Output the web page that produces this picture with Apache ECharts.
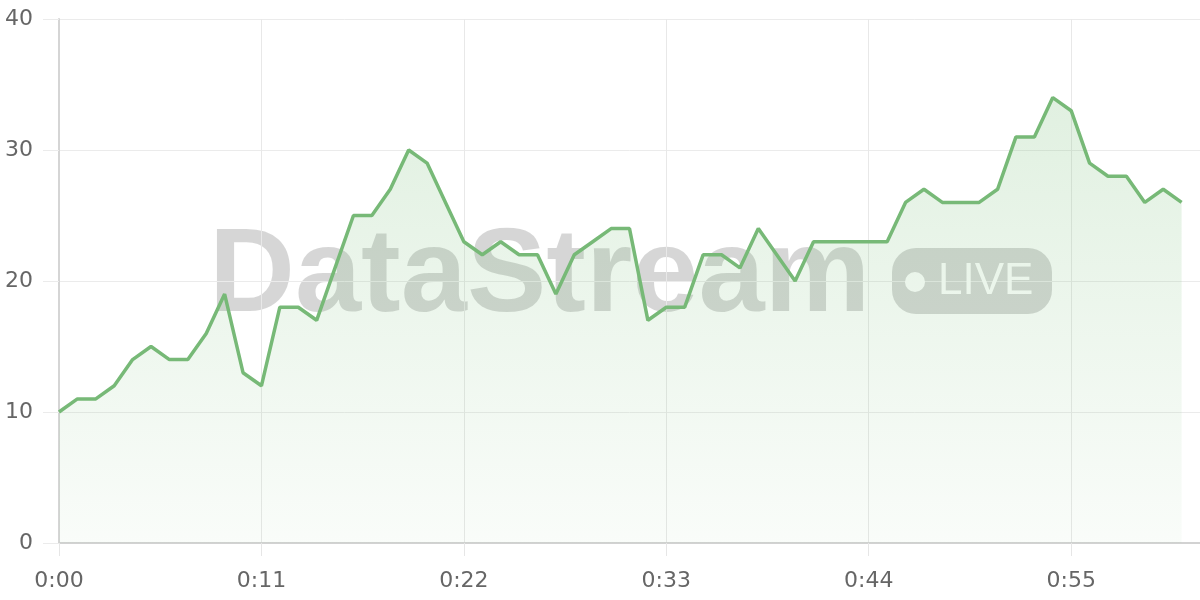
<!DOCTYPE html>
<html>
<head>
<meta charset="utf-8">
<style>
  html, body { margin: 0; padding: 0; background: #fff; }
  #chart { width: 1200px; height: 600px; }
</style>
<script src="https://cdn.jsdelivr.net/npm/echarts@6/dist/echarts.min.js"></script>
</head>
<body>
<div id="chart"></div>
<script>
const categories = [
  '0:00','0:01','0:02','0:03','0:04','0:05','0:06','0:07','0:08','0:09',
  '0:10','0:11','0:12','0:13','0:14','0:15','0:16','0:17','0:18','0:19',
  '0:20','0:21','0:22','0:23','0:24','0:25','0:26','0:27','0:28','0:29',
  '0:30','0:31','0:32','0:33','0:34','0:35','0:36','0:37','0:38','0:39',
  '0:40','0:41','0:42','0:43','0:44','0:45','0:46','0:47','0:48','0:49',
  '0:50','0:51','0:52','0:53','0:54','0:55','0:56','0:57','0:58','0:59',
  '1:00','1:01','1:02'
];
const values = [
  10,11,11,12,14,15,14,14,16,19,
  13,12,18,18,17,21,25,25,27,30,
  29,26,23,22,23,22,22,19,22,23,
  24,24,17,18,18,22,22,21,24,22,
  20,23,23,23,23,23,26,27,26,26,
  26,27,31,31,34,33,29,28,28,26,
  27,26
];
const yTicks = [0, 10, 20, 30, 40];
const watermarkText = 'DataStream';
const badgeText = 'LIVE';

const chart = echarts.init(document.getElementById('chart'), null, { renderer: 'canvas' });
const labelFont = { fontFamily: 'DejaVu Sans', fontSize: 22, color: '#666' };

chart.setOption({
  animation: false,
  backgroundColor: '#fff',
  grid: { left: 59, right: 0, top: 19, bottom: 57, containLabel: false },
  graphic: [
    { type: 'text', x: 209, y: 278, z: 0,
      style: { text: watermarkText, font: 'bold 119px "Liberation Sans"', fill: 'rgba(0,0,0,0.16)', verticalAlign: 'middle' } },
    { type: 'rect', z: 0, shape: { x: 892, y: 248, width: 160, height: 66, r: 24 },
      style: { fill: 'rgba(0,0,0,0.16)' } },
    { type: 'circle', z: 1, shape: { cx: 915, cy: 282, r: 10 }, style: { fill: '#fff' } },
    { type: 'text', x: 938, y: 282, z: 1,
      style: { text: badgeText, font: '44px "Liberation Sans"', fill: '#fff', verticalAlign: 'middle' } }
  ],
  xAxis: {
    type: 'category',
    data: categories,
    boundaryGap: false,
    axisLine: { show: true, lineStyle: { color: '#d2d2d2', width: 2 } },
    axisTick: { show: true, interval: 10, length: 13, lineStyle: { color: '#e6e6e6', width: 1 } },
    axisLabel: Object.assign({ interval: 10, margin: 27 }, labelFont),
    splitLine: { show: true, interval: 10, lineStyle: { color: '#e8e8e8', width: 1 } }
  },
  yAxis: {
    type: 'value',
    min: yTicks[0], max: yTicks[yTicks.length - 1], interval: 10,
    axisLine: { show: true, lineStyle: { color: '#d5d5d5', width: 2 } },
    axisTick: { show: true, length: 16, lineStyle: { color: '#ebebeb', width: 1 } },
    axisLabel: Object.assign({ margin: 26 }, labelFont),
    splitLine: { show: true, lineStyle: { color: '#ebebeb', width: 1 } }
  },
  series: [{
    type: 'line',
    data: values,
    symbol: 'none',
    z: 2,
    lineStyle: { color: '#77b977', width: 3.5 },
    areaStyle: {
      color: new echarts.graphic.LinearGradient(0, 0, 0, 1, [
        { offset: 0, color: 'rgba(120,190,120,0.32)' },
        { offset: 1, color: 'rgba(120,190,120,0.06)' }
      ])
    }
  }]
});
</script>
</body>
</html>
